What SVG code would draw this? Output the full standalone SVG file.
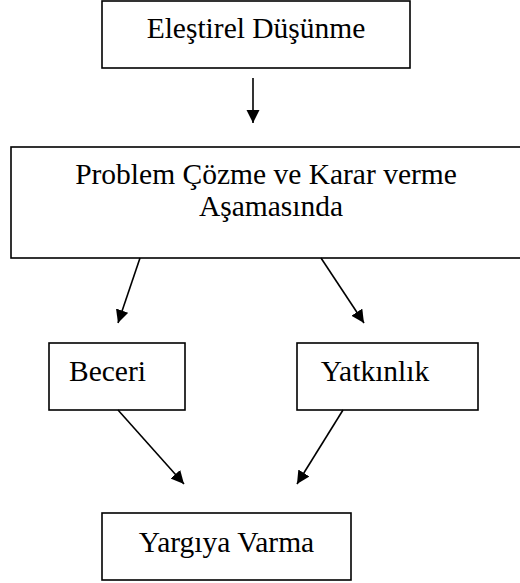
<svg xmlns="http://www.w3.org/2000/svg" width="520" height="583" viewBox="0 0 520 583">
<style>
.box{fill:#fff;stroke:#000;stroke-width:1.6}
.t{font-family:"Liberation Serif","Times New Roman",serif;font-size:29.5px;fill:#000;text-anchor:middle}
.c{stroke:#000;stroke-width:1.6;fill:none}
</style>
<defs>
<marker id="ah" markerUnits="userSpaceOnUse" markerWidth="14" markerHeight="14" refX="13" refY="6.5" orient="auto">
<path d="M0,0 L13,6.5 L0,13 z" fill="#000"/>
</marker>
</defs>
<rect width="520" height="583" fill="#fff"/>
<g id="n1"><rect class="box" x="102" y="1" width="308" height="67"/><text class="t" x="256" y="38">Eleştirel Düşünme</text></g>
<g id="n2"><rect class="box" x="11" y="147" width="515" height="111" stroke-width="2"/><text class="t" x="266" y="184">Problem Çözme ve Karar verme</text><text class="t" x="271" y="216">Aşamasında</text></g>
<g id="n3"><rect class="box" x="49" y="343" width="136" height="67"/><text class="t" x="107.5" y="381">Beceri</text></g>
<g id="n4"><rect class="box" x="297" y="343" width="181" height="67"/><text class="t" x="375" y="381">Yatkınlık</text></g>
<g id="n5"><rect class="box" x="102" y="513" width="249" height="67"/><text class="t" x="226.5" y="552">Yargıya Varma</text></g>
<g id="connectors">
<line class="c" x1="253" y1="78" x2="253" y2="123" marker-end="url(#ah)"/>
<line class="c" x1="140" y1="258" x2="118" y2="323" marker-end="url(#ah)"/>
<line class="c" x1="321" y1="258" x2="364" y2="323" marker-end="url(#ah)"/>
<line class="c" x1="118" y1="410" x2="184" y2="484" marker-end="url(#ah)"/>
<line class="c" x1="343" y1="410" x2="297" y2="484" marker-end="url(#ah)"/>
</g>
</svg>
